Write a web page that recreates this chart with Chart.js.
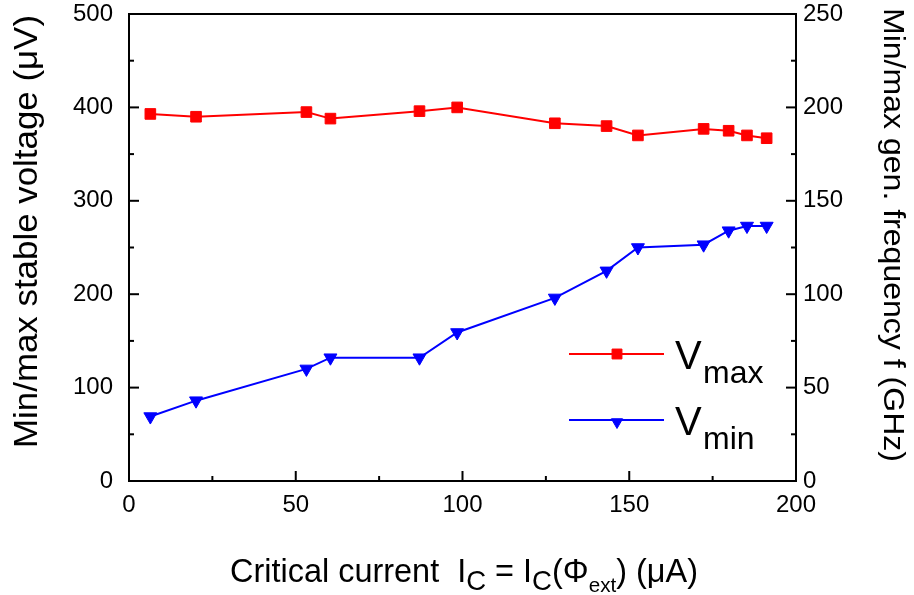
<!DOCTYPE html>
<html><head><meta charset="utf-8">
<script src="https://cdn.jsdelivr.net/npm/chart.js@4.4.1/dist/chart.umd.min.js"></script>
<style>html,body{margin:0;padding:0;background:#fff}#wrap{width:914px;height:595px;position:relative}</style>
</head><body><div id="wrap"><canvas id="c" width="914" height="595"></canvas></div>
<script>
// ---- data ----
const criticalCurrent = [6.4, 20.1, 53.2, 60.4, 87.1, 98.4, 127.7, 143.2, 152.6, 172.3, 179.8, 185.3, 191.2];
const vMax = [393, 390, 395, 388, 396, 400, 383, 380, 370, 377, 375, 370, 367];
const vMin = [69, 86, 120, 132, 132, 159, 196, 225, 250, 253, 268, 273, 273];
const xTickValues = [0, 50, 100, 150, 200];
const yTickValues = [0, 100, 200, 300, 400, 500];
const y2TickValues = [0, 50, 100, 150, 200, 250];
const leftTitle = 'Min/max stable voltage (μV)';
const rightTitle = 'Min/max gen. frequency f (GHz)';
const xTitleParts = [
  {t: 'Critical current  I'}, {t: 'C', sub: 1}, {t: ' = I'}, {t: 'C', sub: 1},
  {t: '(Φ'}, {t: 'ext', sub: 2}, {t: ') (μA)'}
];
const legendItems = [
  {main: 'V', sub: 'max'},
  {main: 'V', sub: 'min'}
];

const FONT = '"Liberation Sans", Arial, Helvetica, sans-serif';
const RED = '#ff0000', BLUE = '#0000ff';

function mids(arr){ const o=[]; for(let i=0;i<arr.length-1;i++) o.push((arr[i]+arr[i+1])/2); return o; }

function pt(ctx, style, x, y, r, rot, color){
  ctx.save();
  ctx.fillStyle = color; ctx.strokeStyle = color; ctx.lineWidth = 1;
  if (Chart.helpers && Chart.helpers.drawPoint) {
    Chart.helpers.drawPoint(ctx, {pointStyle: style, radius: r, rotation: rot, borderWidth: 1}, x, y);
  }
  ctx.restore();
}

const framePlugin = {
  id: 'frameTicks',
  afterDraw(chart){
    const {ctx, chartArea: a, scales} = chart;
    const x = scales.x, y = scales.y, y2 = scales.y2;
    ctx.save();
    ctx.strokeStyle = '#000'; ctx.lineWidth = 2; ctx.lineCap = 'butt';
    ctx.strokeRect(a.left, a.top, a.right - a.left, a.bottom - a.top);
    const seg = (x1,y1,x2,y2_)=>{ctx.beginPath();ctx.moveTo(x1,y1);ctx.lineTo(x2,y2_);ctx.stroke();};
    xTickValues.forEach(v=>{const p=x.getPixelForValue(v); seg(p,a.bottom,p,a.bottom-10);});
    mids(xTickValues).forEach(v=>{const p=x.getPixelForValue(v); seg(p,a.bottom,p,a.bottom-5);});
    yTickValues.forEach(v=>{const p=y.getPixelForValue(v); seg(a.left,p,a.left+10,p);});
    mids(yTickValues).forEach(v=>{const p=y.getPixelForValue(v); seg(a.left,p,a.left+5,p);});
    y2TickValues.forEach(v=>{const p=y2.getPixelForValue(v); seg(a.right,p,a.right-10,p);});
    mids(y2TickValues).forEach(v=>{const p=y2.getPixelForValue(v); seg(a.right,p,a.right-5,p);});
    ctx.restore();

    // axis titles
    ctx.save();
    ctx.fillStyle = '#000'; ctx.textAlign = 'center'; ctx.textBaseline = 'alphabetic';
    ctx.font = '33px ' + FONT;
    ctx.translate(37, 231.5); ctx.rotate(-Math.PI/2);
    let w = ctx.measureText(leftTitle).width; ctx.scale(433 / w, 1);
    ctx.fillText(leftTitle, 0, 0);
    ctx.restore();

    ctx.save();
    ctx.fillStyle = '#000'; ctx.textAlign = 'center'; ctx.textBaseline = 'alphabetic';
    ctx.font = '30px ' + FONT;
    ctx.translate(884, 235); ctx.rotate(Math.PI/2);
    w = ctx.measureText(rightTitle).width; ctx.scale(454 / w, 1);
    ctx.fillText(rightTitle, 0, 0);
    ctx.restore();

    // x title with subscripts
    ctx.save();
    ctx.fillStyle = '#000'; ctx.textAlign = 'left'; ctx.textBaseline = 'alphabetic';
    const sizes = {0: 33, 1: 28, 2: 21}, drops = {0: 0, 1: 8, 2: 10};
    let total = 0;
    xTitleParts.forEach(p=>{ctx.font = sizes[p.sub||0] + 'px ' + FONT; p.w = ctx.measureText(p.t).width; total += p.w;});
    const target = 468, k = target / total;
    ctx.translate(464 - target/2, 582); ctx.scale(k, 1);
    let cx = 0;
    xTitleParts.forEach(p=>{ctx.font = sizes[p.sub||0] + 'px ' + FONT; ctx.fillText(p.t, cx, drops[p.sub||0]); cx += p.w;});
    ctx.restore();

    // legend
    const rows = [{y: 354, color: RED, style: 'rect', base: 369},
                  {y: 420, color: BLUE, style: 'triangle', base: 435}];
    rows.forEach((row, i)=>{
      ctx.save();
      ctx.strokeStyle = row.color; ctx.lineWidth = 2;
      ctx.beginPath(); ctx.moveTo(569, row.y); ctx.lineTo(664, row.y); ctx.stroke();
      ctx.restore();
      pt(ctx, row.style, 617, row.style === 'triangle' ? row.y + 2 : row.y, row.style === 'rect' ? 7 : 6.5, row.style === 'triangle' ? 180 : 0, row.color);
      ctx.save();
      ctx.fillStyle = '#000'; ctx.textAlign = 'left'; ctx.textBaseline = 'alphabetic';
      ctx.font = '40px ' + FONT; ctx.fillText(legendItems[i].main, 675, row.base);
      ctx.font = '32px ' + FONT; ctx.fillText(legendItems[i].sub, 703, row.base + 14);
      ctx.restore();
    });
  }
};

const tickFont = {family: FONT, size: 24};
const noPad = s => { s.paddingTop = 0; s.paddingBottom = 0; s.paddingLeft = 0; s.paddingRight = 0; };
const ctx = document.getElementById('c').getContext('2d');
new Chart(ctx, {
  type: 'line',
  data: {
    datasets: [
      {label: 'Vmax', data: criticalCurrent.map((c,i)=>({x:c, y:vMax[i]})), borderColor: RED, backgroundColor: RED,
       borderWidth: 2, pointStyle: 'rect', pointRadius: 7.5, pointBorderWidth: 1, pointBorderColor: RED, pointBackgroundColor: RED, tension: 0, yAxisID: 'y'},
      {label: 'Vmin', data: criticalCurrent.map((c,i)=>({x:c, y:vMin[i]})), borderColor: BLUE, backgroundColor: BLUE,
       borderWidth: 2, pointStyle: 'triangle', pointRotation: 180, pointRadius: 7.5, pointBorderWidth: 1, pointBorderColor: BLUE, pointBackgroundColor: BLUE, tension: 0, yAxisID: 'y'}
    ]
  },
  options: {
    responsive: false, animation: false, devicePixelRatio: 1,
    layout: {padding: {top: 14, left: 0, right: 0, bottom: 0}},
    plugins: {legend: {display: false}, tooltip: {enabled: false}, title: {display: false}},
    scales: {
      x: {type: 'linear', position: 'bottom', min: 0, max: 200,
          afterBuildTicks: s => { s.ticks = xTickValues.map(v=>({value: v})); },
          ticks: {font: tickFont, color: '#000', padding: 10, maxRotation: 0, autoSkip: false},
          grid: {display: false, drawTicks: false, tickLength: 0}, border: {display: false},
          afterFit: s => { s.height = 114; noPad(s); }},
      y: {type: 'linear', position: 'left', min: 0, max: 500,
          afterBuildTicks: s => { s.ticks = yTickValues.map(v=>({value: v})); },
          ticks: {font: tickFont, color: '#000', padding: 16, autoSkip: false},
          grid: {display: false, drawTicks: false, tickLength: 0}, border: {display: false},
          afterFit: s => { s.width = 129; noPad(s); }},
      y2: {type: 'linear', position: 'right', min: 0, max: 250,
          afterBuildTicks: s => { s.ticks = y2TickValues.map(v=>({value: v})); },
          ticks: {font: tickFont, color: '#000', padding: 7, autoSkip: false},
          grid: {display: false, drawTicks: false, tickLength: 0}, border: {display: false},
          afterFit: s => { s.width = 118; noPad(s); }}
    }
  },
  plugins: [framePlugin]
});
</script>
</body></html>
